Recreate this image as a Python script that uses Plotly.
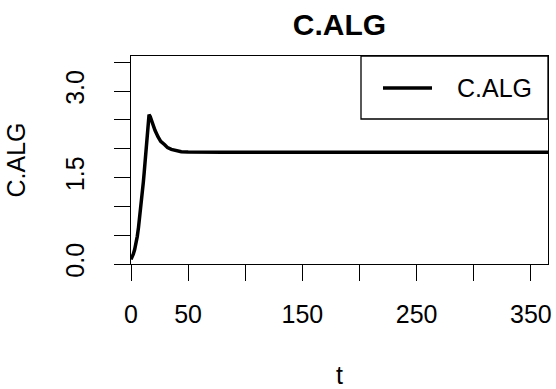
import plotly.graph_objects as go

# data
t_vals = [0, 1, 2, 3.2, 4.4, 5.5, 6.6, 7.6, 8.4, 9.2, 10, 10.8, 11.6, 12.4, 13.2, 14,
          14.8, 15.8, 16.8, 17.8, 19.3, 21, 23.6, 26, 29.5, 32, 35.3, 40, 44, 50, 56,
          80, 120, 200, 300, 365]
c_alg = [0.08, 0.12, 0.17, 0.25, 0.36, 0.48, 0.64, 0.8, 0.95, 1.08, 1.25, 1.42, 1.6,
         1.78, 1.98, 2.2, 2.42, 2.59, 2.56, 2.5, 2.41, 2.32, 2.21, 2.13, 2.07, 2.02,
         1.99, 1.96, 1.95, 1.943, 1.94, 1.94, 1.94, 1.94, 1.94, 1.94]
x_ticks = [0, 50, 100, 150, 200, 250, 300, 350]
x_tick_labels = ["0", "50", "", "150", "", "250", "", "350"]
y_ticks = [0, 0.5, 1, 1.5, 2, 2.5, 3, 3.5]
y_tick_labels = ["0.0", "", "", "1.5", "", "", "3.0", ""]

FONT = "Liberation Sans, Arial, sans-serif"
W, H = 556, 389
L, R, T, B = 131, 8, 56, 125
pw = W - L - R
ph = H - T - B

fig = go.Figure()
fig.add_trace(go.Scatter(x=t_vals, y=c_alg, mode="lines", name="C.ALG",
                         line=dict(color="black", width=3.5), showlegend=False))

def px_x(p):
    return (p - L) / pw

def px_y(p):
    return (H - B - p) / ph

# legend drawn manually (R style)
fig.add_shape(type="rect", xref="paper", yref="paper",
              x0=px_x(361), x1=px_x(548), y0=px_y(119), y1=px_y(56),
              line=dict(color="black", width=1.3), fillcolor="white")
fig.add_shape(type="line", xref="paper", yref="paper",
              x0=px_x(383), x1=px_x(432), y0=px_y(88), y1=px_y(88),
              line=dict(color="black", width=3.5))
fig.add_annotation(text="C.ALG", xref="paper", yref="paper", x=px_x(455), y=px_y(88),
                   xanchor="left", yanchor="middle", showarrow=False,
                   font=dict(family=FONT, size=25, color="black"))

fig.update_layout(
    width=W, height=H,
    margin=dict(l=L, r=R, t=T, b=B),
    paper_bgcolor="white", plot_bgcolor="white",
    font=dict(family=FONT, size=25, color="black"),
    title=dict(text="<b>C.ALG</b>", x=339.5 / W, xanchor="center",
               y=1 - 24 / H, yanchor="middle", yref="container",
               font=dict(family=FONT, size=30, color="black")),
    xaxis=dict(range=[0, 365], tickvals=x_ticks, ticktext=x_tick_labels,
               automargin=False,
               showgrid=False, zeroline=False, showline=True, mirror=True,
               linecolor="black", linewidth=1.3, ticks="outside", ticklen=16,
               tickwidth=1.3, tickcolor="black", ticklabelstandoff=12,
               title=dict(text="t", standoff=52, font=dict(size=25))),
    yaxis=dict(range=[0, 3.61], tickvals=y_ticks, ticktext=y_tick_labels,
               automargin=False,
               showgrid=False, zeroline=False, showline=True, mirror=True,
               linecolor="black", linewidth=1.3, ticks="outside", ticklen=16,
               tickwidth=1.3, tickcolor="black", tickangle=-90, ticklabelstandoff=20,
               title=dict(text="C.ALG", standoff=28, font=dict(size=25))),
)

fig.write_html("out.html")
